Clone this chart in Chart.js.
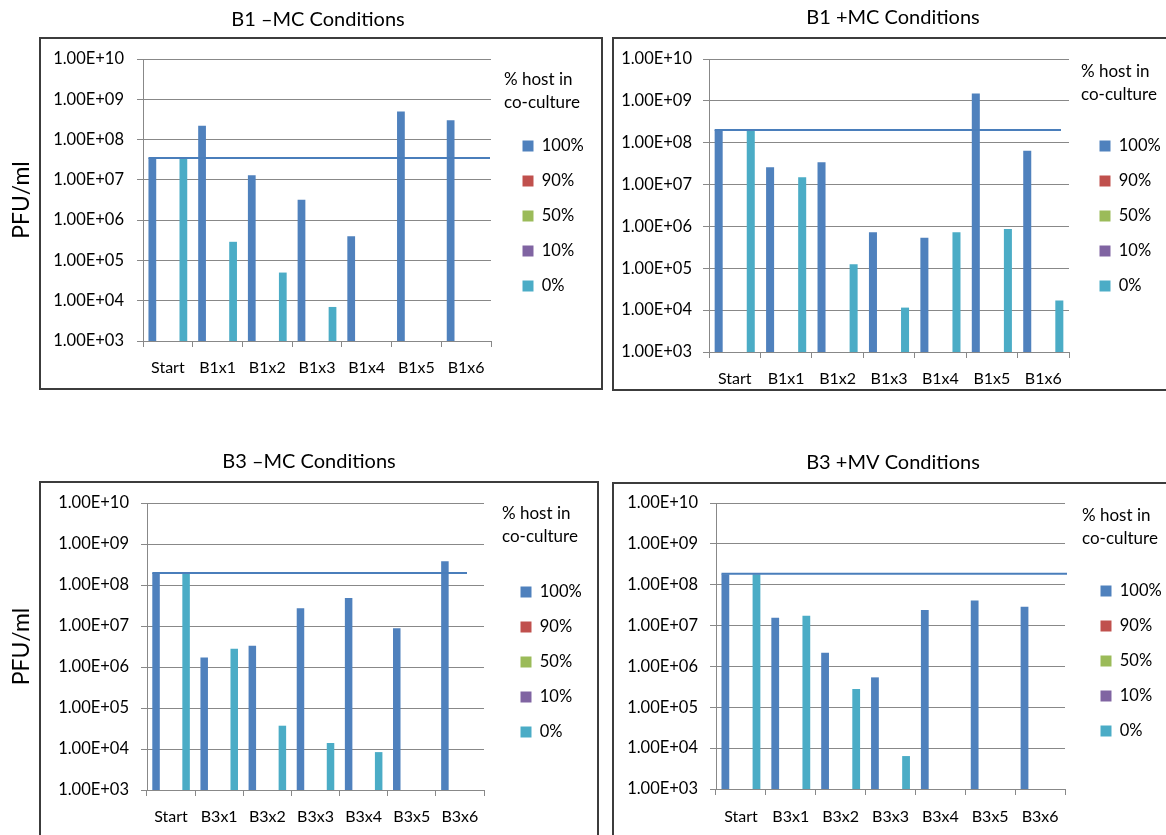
<!DOCTYPE html>
<html>
<head>
<meta charset="utf-8">
<title>PFU/ml per passage</title>
<script src="https://cdn.jsdelivr.net/npm/chart.js@4.4.0/dist/chart.umd.min.js"></script>
<style>
  body { margin: 0; background: #fff; }
  #page { position: relative; width: 1166px; height: 835px; overflow: hidden; }
  canvas { position: absolute; }
  .frame { position: absolute; box-sizing: border-box; border: 2px solid #3c3c3c; pointer-events: none; }
</style>
</head>
<body>
<div id="page">
  <canvas id="chartB1minus" width="636" height="392" style="left:0;top:0"></canvas>
  <canvas id="chartB1plus" width="586" height="392" style="left:600px;top:0"></canvas>
  <canvas id="chartB3minus" width="618" height="395" style="left:0;top:440px"></canvas>
  <canvas id="chartB3plus" width="586" height="395" style="left:600px;top:440px"></canvas>
  <div class="frame" style="left:39px;top:37px;width:564px;height:353px"></div>
  <div class="frame" style="left:612px;top:37px;width:588px;height:354px"></div>
  <div class="frame" style="left:39px;top:481px;width:560px;height:400px"></div>
  <div class="frame" style="left:612px;top:482px;width:588px;height:400px"></div>
</div>

<script>
// Data (PFU/ml)
const categoriesB1 = ['Start', 'B1x1', 'B1x2', 'B1x3', 'B1x4', 'B1x5', 'B1x6'];
const categoriesB3 = ['Start', 'B3x1', 'B3x2', 'B3x3', 'B3x4', 'B3x5', 'B3x6'];
const seriesLabels = ['100%', '90%', '50%', '10%', '0%'];
const seriesColors = ['#4F81BD', '#C0504D', '#9BBB59', '#8064A2', '#4BACC6'];
const yTickValues = [1e3, 1e4, 1e5, 1e6, 1e7, 1e8, 1e9, 1e10];

// series with no measurements (legend entries only)
const emptySeries = [null, null, null, null, null, null, null];

const b1MinusHost100 = [3.5e7, 2.2e8, 1.3e7, 3.2e6, 4.0e5, 5.0e8, 3.0e8];
const b1MinusHost0 = [3.5e7, 2.9e5, 5.0e4, 7.0e3, null, null, null];
const b1MinusStart = 3.5e7;

const b1PlusHost100 = [2.0e8, 2.6e7, 3.4e7, 7.3e5, 5.4e5, 1.5e9, 6.4e7];
const b1PlusHost0 = [2.0e8, 1.5e7, 1.25e5, 1.15e4, 7.3e5, 8.7e5, 1.7e4];
const b1PlusStart = 2.0e8;

const b3MinusHost100 = [1.95e8, 1.7e6, 3.3e6, 2.7e7, 4.8e7, 8.8e6, 3.8e8];
const b3MinusHost0 = [1.95e8, 2.8e6, 3.7e4, 1.4e4, 8.4e3, null, null];
const b3MinusStart = 1.95e8;

const b3PlusHost100 = [1.8e8, 1.55e7, 2.15e6, 5.4e5, 2.4e7, 4.1e7, 2.9e7];
const b3PlusHost0 = [1.8e8, 1.75e7, 2.8e5, 6.4e3, null, null, null];
const b3PlusStart = 1.85e8;

Chart.defaults.font.family = 'Lato, "Open Sans", sans-serif';
Chart.defaults.color = '#000';

// Excel style "1.00E+07"
function sciLabel(value) {
    const exp = Math.round(Math.log10(value));
    const mant = value / Math.pow(10, exp);
    return mant.toFixed(2) + 'E+' + String(exp).padStart(2, '0');
}

// horizontal line at the starting titre
const startLinePlugin = {
    id: 'startLine',
    afterDatasetsDraw(chart, args, opts) {
        const { ctx, chartArea, scales } = chart;
        const firstBar = chart.getDatasetMeta(0).data[0];
        if (!firstBar) return;
        const y = scales.y.getPixelForValue(opts.value);
        const x0 = firstBar.x - firstBar.width / 2;
        const x1 = chartArea.right - opts.endInset;
        ctx.save();
        ctx.strokeStyle = opts.color;
        ctx.lineWidth = opts.width;
        ctx.beginPath();
        ctx.moveTo(x0, y);
        ctx.lineTo(x1, y);
        ctx.stroke();
        ctx.restore();
    }
};

// invisible axis used only to reserve horizontal space
function spacerAxis(width, weight) {
    return {
        type: 'linear',
        axis: 'y',
        position: 'right',
        weight: weight,
        grid: { display: false },
        border: { display: false },
        ticks: { display: false },
        afterFit: scale => { scale.width = width; }
    };
}

function makePanel(id, cfg) {
    const series = [cfg.host100, emptySeries, emptySeries, emptySeries, cfg.host0];
    const datasets = series.map((data, i) => ({
        label: seriesLabels[i],
        data: data,
        backgroundColor: seriesColors[i],
        borderWidth: 0,
        yAxisID: 'y',
        categoryPercentage: 0.78,
        barPercentage: 1
    }));

    new Chart(document.getElementById(id), {
        type: 'bar',
        data: { labels: cfg.categories, datasets: datasets },
        plugins: [startLinePlugin],
        options: {
            responsive: false,
            animation: false,
            devicePixelRatio: 1,
            layout: { padding: 0 },
            plugins: {
                title: {
                    display: true,
                    text: cfg.title,
                    font: { size: 20, weight: 'normal', lineHeight: 1.2 },
                    padding: cfg.titlePad
                },
                legend: {
                    position: 'right',
                    align: 'start',
                    maxWidth: 80,
                    title: {
                        display: true,
                        text: ['% host in', 'co-culture'],
                        position: 'start',
                        font: { size: 17, lineHeight: 1.35 },
                        padding: cfg.legendTitlePad
                    },
                    labels: {
                        boxWidth: 11,
                        boxHeight: 11,
                        padding: 18.5,
                        font: { size: 16.5 }
                    }
                },
                tooltip: { enabled: false },
                startLine: { value: cfg.start, endInset: cfg.lineInset, color: '#4A7EBB', width: 2 }
            },
            scales: {
                x: {
                    grid: {
                        offset: true,
                        drawOnChartArea: false,
                        drawTicks: true,
                        tickLength: 6,
                        color: '#888'
                    },
                    border: { color: '#888' },
                    ticks: { font: { size: 16 }, padding: cfg.xTickPad, maxRotation: 0, autoSkip: false },
                    afterFit: scale => { scale.height = cfg.xHeight; }
                },
                y: {
                    type: 'logarithmic',
                    min: 1e3,
                    max: 1e10,
                    grid: { color: '#888', tickLength: 6 },
                    border: { color: '#888' },
                    ticks: {
                        font: { size: 16.5 },
                        padding: cfg.yTickPad,
                        callback: value => sciLabel(value)
                    },
                    afterBuildTicks: scale => {
                        scale.ticks = yTickValues.map(v => ({ value: v }));
                    },
                    title: {
                        display: cfg.yTitle,
                        text: 'PFU/ml',
                        font: { size: 23 },
                        padding: { top: 8, bottom: 0 }
                    },
                    afterFit: scale => { scale.width = cfg.yWidth; }
                },
                gap: spacerAxis(cfg.gapWidth, 0),      // plot -> legend
                edge: spacerAxis(cfg.edgeWidth, 2000)  // legend -> canvas edge
            }
        }
    });
}

makePanel('chartB1minus', {
    title: 'B1 \u2013MC Conditions', categories: categoriesB1,
    host100: b1MinusHost100, host0: b1MinusHost0, start: b1MinusStart,
    yTitle: true, yWidth: 143, xHeight: 51, gapWidth: 13, edgeWidth: 52,
    titlePad: { top: 8, bottom: 27 }, legendTitlePad: { top: 71.5, bottom: 24.8 },
    yTickPad: 13, xTickPad: 11, lineInset: 1
});

makePanel('chartB1plus', {
    title: 'B1 +MC Conditions', categories: categoriesB1,
    host100: b1PlusHost100, host0: b1PlusHost0, start: b1PlusStart,
    yTitle: false, yWidth: 109, xHeight: 40, gapWidth: 12, edgeWidth: 25,
    titlePad: { top: 6, bottom: 29 }, legendTitlePad: { top: 63.5, bottom: 32.8 },
    yTickPad: 11, xTickPad: 11, lineInset: 8
});

makePanel('chartB3minus', {
    title: 'B3 \u2013MC Conditions', categories: categoriesB3,
    host100: b3MinusHost100, host0: b3MinusHost0, start: b3MinusStart,
    yTitle: true, yWidth: 147, xHeight: 45, gapWidth: 18, edgeWidth: 36,
    titlePad: { top: 10, bottom: 29 }, legendTitlePad: { top: 65.5, bottom: 36.8 },
    yTickPad: 12, xTickPad: 11, lineInset: 17
});

makePanel('chartB3plus', {
    title: 'B3 +MV Conditions', categories: categoriesB3,
    host100: b3PlusHost100, host0: b3PlusHost0, start: b3PlusStart,
    yTitle: false, yWidth: 116, xHeight: 46, gapWidth: 17, edgeWidth: 24,
    titlePad: { top: 11, bottom: 28 }, legendTitlePad: { top: 67.5, bottom: 33.8 },
    yTickPad: 12, xTickPad: 12, lineInset: -2
});
</script>
</body>
</html>
